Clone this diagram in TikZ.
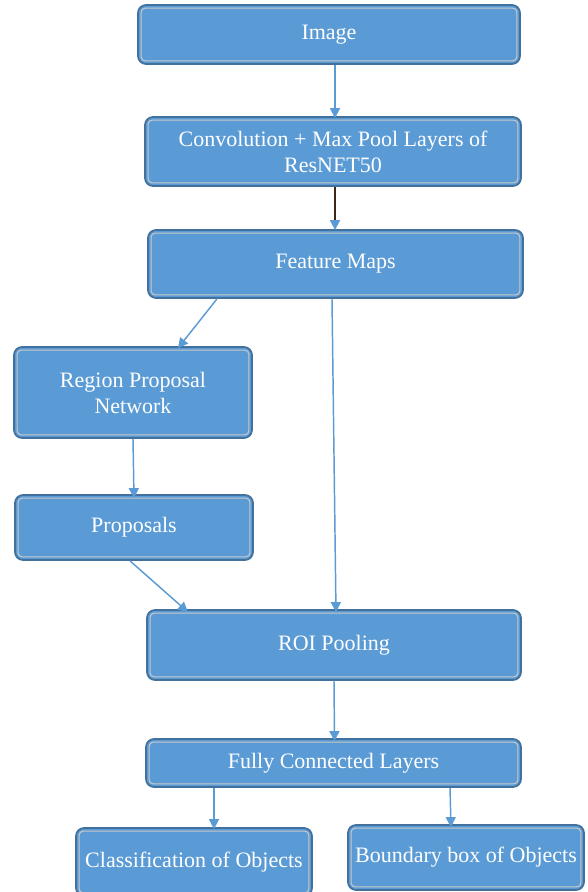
\documentclass[tikz,border=0pt]{standalone}
\usepackage{fontspec}
\setmainfont{Liberation Serif}
\usetikzlibrary{arrows.meta}

\definecolor{boxfill}{RGB}{91,155,213}
\definecolor{boxedge}{RGB}{65,113,156}
\definecolor{boxinner}{RGB}{200,200,200}
\definecolor{flowblue}{RGB}{91,155,213}
\definecolor{flowdark}{RGB}{60,40,20}

\tikzset{
  blockbox/.style={rectangle, rounded corners=6pt, fill=boxfill, draw=boxedge, line width=1.3pt,
    text=white, align=center, font=\fontsize{16.5}{19.5}\selectfont, inner sep=0pt},
  boxsize/.style 2 args={minimum width=#1*0.75pt, minimum height=#2*0.75pt},
  innerline/.style={draw=boxinner, line width=0.8pt, rounded corners=3pt},
  flow/.style={draw=flowblue, line width=1.1pt, -{Triangle[width=7.5pt,length=7.5pt,color=flowblue]}}
}

\begin{document}
\begin{tikzpicture}[x=0.75pt,y=0.75pt,yscale=-1]
\useasboundingbox (0,0) rectangle (587,892);

% Boxes
\node[blockbox, boxsize={382}{59}] (img) at (329,34.5) {Image};
\node[blockbox, boxsize={376}{69}] (conv) at (333,151.5) {Convolution + Max Pool Layers of\\ResNET50};
\node[blockbox, boxsize={375}{68}] (fmap) at (335.5,264) {Feature Maps};
\node[blockbox, boxsize={238}{91}] (rpn) at (133,392.5) {Region Proposal\\Network};
\node[blockbox, boxsize={238}{65}] (prop) at (134,527.5) {Proposals};
\node[blockbox, boxsize={374}{70}] (roi) at (334,645) {ROI Pooling};
\node[blockbox, boxsize={375}{48}] (fcl) at (333.5,763) {Fully Connected Layers};
\node[blockbox, boxsize={236}{68}] (cls) at (194,862) {Classification of Objects};
\node[blockbox, boxsize={236}{65}] (bbox) at (466,857.5) {Boundary box of Objects};

% inner lines of the boxes
\foreach \n in {img,conv,fmap,rpn,prop,roi,fcl,cls,bbox}
  \draw[innerline] ([shift={(4,4)}]\n.north west) rectangle ([shift={(-4,-4)}]\n.south east);

% Connectors
\draw[flow] ([xshift=6*0.75pt]img.south) -- ([xshift=2*0.75pt,yshift=2*0.75pt]conv.north);
\draw[flow, draw=flowdark] ([xshift=2*0.75pt]conv.south) -- ([xshift=-0.5*0.75pt,yshift=1*0.75pt]fmap.north);
\draw[flow] ([xshift=-118.5*0.75pt]fmap.south) -- ([xshift=45*0.75pt,yshift=2*0.75pt]rpn.north);
\draw[flow] ([xshift=-3.5*0.75pt]fmap.south) -- ([xshift=2*0.75pt,yshift=3*0.75pt]roi.north);
\draw[flow] (rpn.south) -- ([yshift=4*0.75pt]prop.north);
\draw[flow] ([xshift=-4*0.75pt]prop.south) -- ([xshift=-146*0.75pt,yshift=3*0.75pt]roi.north);
\draw[flow] (roi.south) -- ([xshift=1*0.75pt,yshift=3*0.75pt]fcl.north);
\draw[flow] ([xshift=-119.5*0.75pt]fcl.south) -- ([xshift=20*0.75pt,yshift=2*0.75pt]cls.north);
\draw[flow] ([xshift=116.5*0.75pt]fcl.south) -- ([xshift=-15*0.75pt,yshift=3*0.75pt]bbox.north);
\end{tikzpicture}
\end{document}
